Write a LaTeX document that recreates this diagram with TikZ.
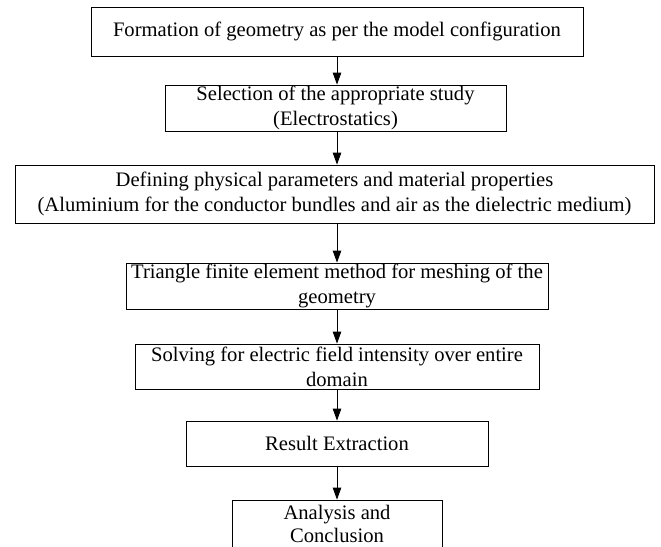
\documentclass[tikz,border=0pt]{standalone}
\usepackage{fontspec}
\setmainfont{Liberation Serif}
\usetikzlibrary{arrows.meta}
\begin{document}
\begin{tikzpicture}[x=1pt,y=-1pt,
  box/.style={draw, line width=0.8pt, inner sep=0pt, align=center,
    font=\fontsize{20.6}{25}\selectfont},
  arr/.style={-{Triangle[length=12pt,width=8.5pt]}, line width=0.9pt}]
\useasboundingbox (0,0) rectangle (661,546);
\node[box, minimum width=492pt, minimum height=49pt] (b1) at (337,31.5)
  {Formation of geometry as per the model configuration};
\node[box, minimum width=341pt, minimum height=46pt] (b2) at (335.5,108)
  {Selection of the appropriate study\\(Electrostatics)};
\node[box, minimum width=639pt, minimum height=58pt] (b3) at (334.5,194)
  {Defining physical parameters and material properties\\(Aluminium for the conductor bundles and air as the dielectric medium)};
\node[box, minimum width=422pt, minimum height=46pt] (b4) at (337,286)
  {Triangle finite element method for meshing of the\\geometry};
\node[box, minimum width=404pt, minimum height=45pt] (b5) at (337,366.5)
  {Solving for electric field intensity over entire\\domain};
\node[box, minimum width=302pt, minimum height=45pt] (b6) at (337,443.5)
  {Result Extraction};
\node[box, minimum width=210pt, minimum height=48pt,
  font=\fontsize{20.6}{23.5}\selectfont] (b7) at (337,524)
  {Analysis and\\Conclusion};
\draw[arr] (b1.south) -- (b1.south |- b2.north);
\draw[arr] (b1.south |- b2.south) -- (b1.south |- b3.north);
\draw[arr] (b1.south |- b3.south) -- (b4.north);
\draw[arr] (b4.south) -- (b5.north);
\draw[arr] (b5.south) -- (b6.north);
\draw[arr] (b6.south) -- (b7.north);
\end{tikzpicture}
\end{document}
